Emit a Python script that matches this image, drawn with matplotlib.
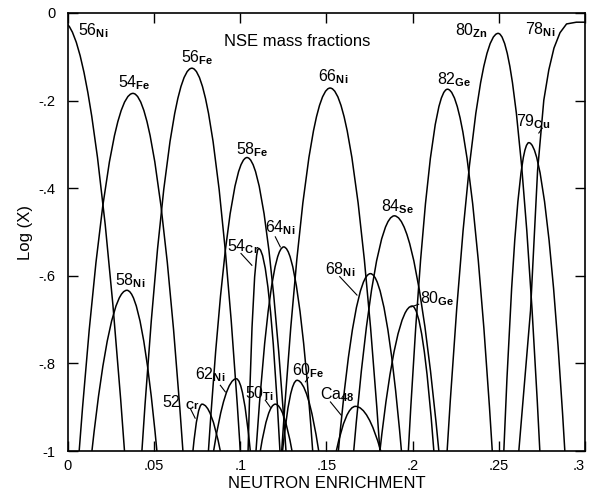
import matplotlib
matplotlib.use('Agg')
import matplotlib.pyplot as plt
from matplotlib.path import Path
from matplotlib.patches import PathPatch

plt.rcParams['font.family'] = 'Liberation Sans'
plt.rcParams['mathtext.fontset'] = 'custom'
plt.rcParams['mathtext.rm'] = 'Liberation Sans'
plt.rcParams['mathtext.bf'] = 'Liberation Sans:bold'

# each arch: where it leaves log X = -1, its top, where it comes back to -1
isotopes   = ['56Ni', '54Fe', '58Ni', '56Fe', '52Cr', '62Ni', '58Fe', '54Cr', '64Ni', '50Ti',
              '60Fe', '66Ni', 'Ca48', '68Ni', '84Se', '80Ge', '82Ge', '80Zn', '79Cu']
foot_left  = [-0.040, 0.0065, 0.0139, 0.0429, 0.0725, 0.0845, 0.0815, 0.1045, 0.1091, 0.1116,
              0.1245, 0.1240, 0.1557, 0.1569, 0.1658, 0.1810, 0.1975, 0.2200, 0.2529]
peak_x     = [-0.003, 0.0377, 0.0342, 0.0719, 0.0778, 0.0977, 0.1039, 0.1106, 0.1252, 0.1203,
              0.1329, 0.1521, 0.1668, 0.1755, 0.1894, 0.1997, 0.2202, 0.2496, 0.2674]
peak_logx  = [-0.020, -0.1835, -0.633, -0.126, -0.893, -0.835, -0.330, -0.5375, -0.534, -0.893,
              -0.8385, -0.1713, -0.898, -0.595, -0.463, -0.669, -0.174, -0.0465, -0.296]
foot_right = [0.0328, 0.0667, 0.0516, 0.1000, 0.0884, 0.1058, 0.1265, 0.1230, 0.1420, 0.1300,
              0.1455, 0.1810, 0.1815, 0.1935, 0.2152, 0.2123, 0.2462, 0.2738, 0.2883]

# 78Ni flattens out against the right edge, read point by point
ni78_x = [0.2616, 0.2684, 0.2725, 0.2761, 0.2790, 0.2820, 0.2855, 0.2893, 0.2950, 0.3000]
ni78_y = [-1.0, -0.679, -0.359, -0.199, -0.130, -0.080, -0.045, -0.025, -0.021, -0.021]

# label text, left edge / baseline
label_text = [r'$56_{\mathbf{Ni}}$', r'$54_{\mathbf{Fe}}$', r'$56_{\mathbf{Fe}}$', r'$58_{\mathbf{Fe}}$',
              r'$66_{\mathbf{Ni}}$', r'$82_{\mathbf{Ge}}$', r'$80_{\mathbf{Zn}}$', r'$78_{\mathbf{Ni}}$',
              r'$79_{\mathbf{Cu}}$', r'$84_{\mathbf{Se}}$', r'$58_{\mathbf{Ni}}$', r'$54_{\mathbf{Cr}}$',
              r'$64_{\mathbf{Ni}}$', r'$68_{\mathbf{Ni}}$', r'$80_{\mathbf{Ge}}$', r'$52\ _{\mathbf{Cr}}$',
              r'$62_{\mathbf{Ni}}$', r'$50_{\mathbf{Ti}}$', r'$60_{\mathbf{Fe}}$', r'$\mathrm{Ca}_{\mathbf{48}}$']
label_x = [0.0059, 0.0292, 0.0657, 0.0977, 0.1453, 0.2144, 0.2248, 0.2650, 0.2597, 0.1818,
           0.0274, 0.0923, 0.1145, 0.1493, 0.2041, 0.0545, 0.0739, 0.1029, 0.1300, 0.1465]
label_y = [-0.052, -0.169, -0.112, -0.322, -0.155, -0.162, -0.050, -0.048, -0.258, -0.452,
           -0.621, -0.543, -0.500, -0.596, -0.662, -0.900, -0.836, -0.879, -0.827, -0.882]

# little leader strokes from labels to their curves
leaders = [((0.1004, -0.549), (0.1067, -0.576)), ((0.1203, -0.511), (0.1232, -0.534)),
           ((0.1577, -0.602), (0.1677, -0.644)), ((0.2035, -0.665), (0.1991, -0.671)),
           ((0.0710, -0.903), (0.0738, -0.925)), ((0.0884, -0.850), (0.0913, -0.865)),
           ((0.1145, -0.884), (0.1174, -0.900)), ((0.1395, -0.832), (0.1378, -0.842)),
           ((0.1523, -0.888), (0.1585, -0.918)), ((0.2752, -0.263), (0.2732, -0.274))]

xticks = [0, 0.05, 0.1, 0.15, 0.2, 0.25, 0.3]
xtick_labels = ['0', '.05', '.1', '.15', '.2', '.25', '.3']
yticks = [0, -0.2, -0.4, -0.6, -0.8, -1]
ytick_labels = ['0', '-.2', '-.4', '-.6', '-.8', '-1']

fig = plt.figure(figsize=(5.89, 4.96), dpi=100, facecolor='w')
ax = fig.add_axes([0.1154, 0.0907, 0.8778, 0.8831])

for i in range(len(isotopes)):
    L, x0, p, R = foot_left[i], peak_x[i], peak_logx[i], foot_right[i]
    # two parabolic halves meeting at the top
    verts = [(L, -1), ((L + x0) / 2, p), (x0, p), ((x0 + R) / 2, p), (R, -1)]
    codes = [Path.MOVETO, Path.CURVE3, Path.CURVE3, Path.CURVE3, Path.CURVE3]
    ax.add_patch(PathPatch(Path(verts, codes), fill=False, lw=1.1, ec='k'))

ax.plot(ni78_x, ni78_y, 'k-', lw=1.1)

for t, x, y in zip(label_text, label_x, label_y):
    ax.text(x, y, t, fontsize=11.5, ha='left', va='baseline')

for (a, b) in leaders:
    ax.plot([a[0], b[0]], [a[1], b[1]], 'k-', lw=0.8)

ax.text(0.0905, -0.066, 'NSE mass fractions', fontsize=12, ha='left', va='center')

ax.set_xlim(0, 0.3)
ax.set_ylim(-1, 0)
ax.set_xticks(xticks)
ax.set_xticklabels(xtick_labels)
ax.set_yticks(yticks)
ax.set_yticklabels(ytick_labels)
ax.tick_params(direction='in', length=7, width=1, top=True, right=True, labelsize=10.5)
ax.tick_params(axis='y', pad=9)
ax.tick_params(axis='x', pad=6)
ax.get_xticklabels()[-1].set_horizontalalignment('right')
for s in ax.spines.values():
    s.set_linewidth(1.2)

ax.set_xlabel('NEUTRON ENRICHMENT', fontsize=12, labelpad=2)
ax.set_ylabel('Log (X)', fontsize=12, labelpad=4)

fig.savefig('out.png', dpi=100)
